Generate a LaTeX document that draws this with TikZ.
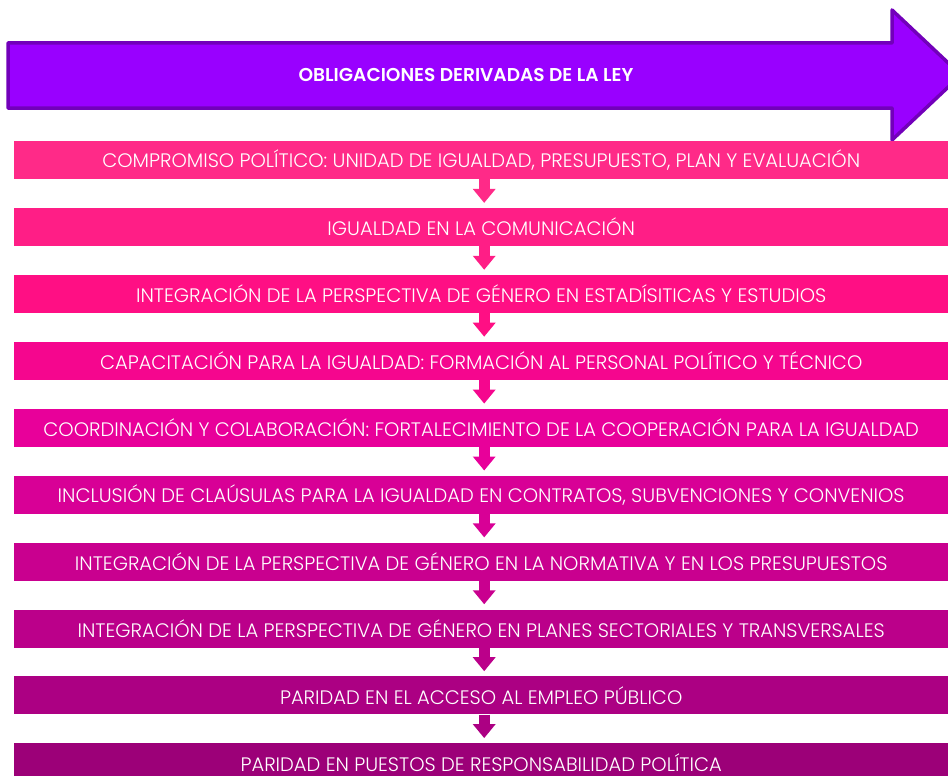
\documentclass[tikz,border=0pt]{standalone}
\usepackage{fontspec}
\setmainfont{Poppins Light}[BoldFont=Poppins SemiBold]
\usepackage{tikz}
\usepackage{xcolor}
\usetikzlibrary{positioning, arrows.meta}

\definecolor{cA}{HTML}{FF2A88}
\definecolor{cB}{HTML}{FF1E86}
\definecolor{cC}{HTML}{FF0F84}
\definecolor{cD}{HTML}{F5068E}
\definecolor{cE}{HTML}{E8009A}
\definecolor{cF}{HTML}{D80096}
\definecolor{cG}{HTML}{C9008F}
\definecolor{cH}{HTML}{BB008A}
\definecolor{cI}{HTML}{AC0083}
\definecolor{cJ}{HTML}{9C0078}
\definecolor{arrowfill}{HTML}{9900FF}
\definecolor{arrowline}{HTML}{7200BA}

\tikzset{
  obox/.style={minimum width=934pt, minimum height=38pt, inner sep=0pt,
    text=white, font=\fontsize{19.5}{22}\selectfont},
  down/.style={draw=#1, line width=11pt,
    -{Triangle[width=22pt, length=14pt]}, shorten >=5pt}
}

\begin{document}
\begin{tikzpicture}[x=1pt, y=-1pt]
                \useasboundingbox (0,0) rectangle (948,776);

                % big arrow
                \draw[fill=arrowfill, draw=arrowline, line width=3.5pt, line join=round]
                  (8,43) -- (892,43) -- (892,10) -- (961,75) -- (892,140)
                  -- (892,108) -- (8,108) -- cycle;
                \node [text=white, font=\bfseries\fontsize{18.6}{20}\selectfont] (title) at (466,75) {OBLIGACIONES DERIVADAS DE LA LEY};

                \node [obox, fill=cA, anchor=north west] (b1) at (14,141) {COMPROMISO POLÍTICO: UNIDAD DE IGUALDAD, PRESUPUESTO, PLAN Y EVALUACIÓN};
                \node [obox, fill=cB, below=28.5pt of b1] (b2) {IGUALDAD EN LA COMUNICACIÓN};
                \node [obox, fill=cC, below=28.5pt of b2] (b3) {INTEGRACIÓN DE LA PERSPECTIVA DE GÉNERO EN ESTADÍSITICAS Y ESTUDIOS};
                \node [obox, fill=cD, below=28.5pt of b3] (b4) {CAPACITACIÓN PARA LA IGUALDAD: FORMACIÓN AL PERSONAL POLÍTICO Y TÉCNICO};
                \node [obox, fill=cE, below=28.5pt of b4] (b5) {COORDINACIÓN Y COLABORACIÓN: FORTALECIMIENTO DE LA COOPERACIÓN PARA LA IGUALDAD};
                \node [obox, fill=cF, below=28.5pt of b5] (b6) {INCLUSIÓN DE CLAÚSULAS PARA LA IGUALDAD EN CONTRATOS, SUBVENCIONES Y CONVENIOS};
                \node [obox, fill=cG, below=28.5pt of b6] (b7) {INTEGRACIÓN DE LA PERSPECTIVA DE GÉNERO EN LA NORMATIVA Y EN LOS PRESUPUESTOS};
                \node [obox, fill=cH, below=28.5pt of b7] (b8) {INTEGRACIÓN DE LA PERSPECTIVA DE GÉNERO EN PLANES SECTORIALES Y TRANSVERSALES};
                \node [obox, fill=cI, below=28.5pt of b8] (b9) {PARIDAD EN EL ACCESO AL EMPLEO PÚBLICO};
                \node [obox, fill=cJ, below=28.5pt of b9] (b10) {PARIDAD EN PUESTOS DE RESPONSABILIDAD POLÍTICA};

                \draw[down=cA] ([xshift=3pt]b1.south) -- ([xshift=3pt]b2.north);
                \draw[down=cB] ([xshift=3pt]b2.south) -- ([xshift=3pt]b3.north);
                \draw[down=cC] ([xshift=3pt]b3.south) -- ([xshift=3pt]b4.north);
                \draw[down=cD] ([xshift=3pt]b4.south) -- ([xshift=3pt]b5.north);
                \draw[down=cE] ([xshift=3pt]b5.south) -- ([xshift=3pt]b6.north);
                \draw[down=cF] ([xshift=3pt]b6.south) -- ([xshift=3pt]b7.north);
                \draw[down=cG] ([xshift=3pt]b7.south) -- ([xshift=3pt]b8.north);
                \draw[down=cH] ([xshift=3pt]b8.south) -- ([xshift=3pt]b9.north);
                \draw[down=cI] ([xshift=3pt]b9.south) -- ([xshift=3pt]b10.north);
            \end{tikzpicture}
\end{document}
